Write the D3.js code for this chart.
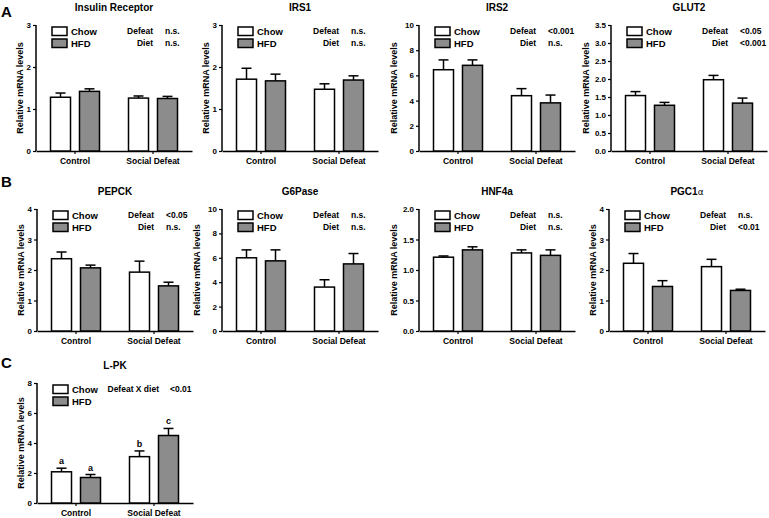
<!DOCTYPE html>
<html>
<head>
<meta charset="utf-8">
<script src="https://cdn.jsdelivr.net/npm/d3@7"></script>
<style>
  html, body { margin: 0; padding: 0; background: #fff; }
  svg { display: block; font-family: "Liberation Sans", Arial, sans-serif; font-weight: bold; }
</style>
</head>
<body>
<svg id="chart" width="769" height="518"></svg>
<script>
// ---- data ----
const categories = ["Control", "Social Defeat"];
const series = ["Chow", "HFD"];
const genes = ["Insulin Receptor", "IRS1", "IRS2", "GLUT2", "PEPCK", "G6Pase", "HNF4a", "PGC1α", "L-PK"];
const panelLetters = ["A", "B", "C"];
const chowMean = [[1.28, 1.26], [1.71, 1.47], [6.45, 4.39], [1.54, 1.98], [2.37, 1.93], [6.0, 3.6], [1.21, 1.28], [2.22, 2.11], [2.08, 3.09]];
const chowSEM  = [[0.10, 0.05], [0.26, 0.13], [0.78, 0.56], [0.11, 0.12], [0.22, 0.36], [0.65, 0.60], [0.02, 0.05], [0.32, 0.24], [0.24, 0.38]];
const hfdMean  = [[1.42, 1.25], [1.67, 1.69], [6.80, 3.82], [1.27, 1.33], [2.07, 1.48], [5.75, 5.5], [1.33, 1.24], [1.46, 1.33], [1.70, 4.50]];
const hfdSEM   = [[0.06, 0.05], [0.16, 0.10], [0.43, 0.62], [0.08, 0.14], [0.09, 0.12], [0.90, 0.85], [0.05, 0.09], [0.19, 0.04], [0.20, 0.47]];
const yTicks = [
  [0, 1, 2, 3], [0, 1, 2, 3], [0, 2, 4, 6, 8, 10], [0, 0.5, 1, 1.5, 2, 2.5, 3, 3.5],
  [0, 1, 2, 3, 4], [0, 2, 4, 6, 8, 10], [0, 0.5, 1, 1.5, 2], [0, 1, 2, 3, 4], [0, 2, 4, 6, 8]
];
const tickDecimals = [0, 0, 0, 1, 0, 0, 1, 0, 0];
const statLabels = [["Defeat", "Diet"], ["Defeat", "Diet"], ["Defeat", "Diet"], ["Defeat", "Diet"],
                    ["Defeat", "Diet"], ["Defeat", "Diet"], ["Defeat", "Diet"], ["Defeat", "Diet"], ["Defeat X diet"]];
const statValues = [["n.s.", "n.s."], ["n.s.", "n.s."], ["<0.001", "n.s."], ["<0.05", "<0.001"],
                    ["<0.05", "n.s."], ["n.s.", "n.s."], ["n.s.", "n.s."], ["n.s.", "<0.01"], ["<0.01"]];
const groupLetters = [null, null, null, null, null, null, null, null, [["a", "b"], ["a", "c"]]];
const yLabel = "Relative mRNA levels";

// ---- layout ----
const layout = [
  {x0: 36,  top: 25,  bottom: 151}, {x0: 222, top: 25,  bottom: 151}, {x0: 419, top: 25,  bottom: 151}, {x0: 611, top: 25,  bottom: 151},
  {x0: 37,  top: 209, bottom: 331}, {x0: 222, top: 209, bottom: 331}, {x0: 419, top: 209, bottom: 331}, {x0: 609, top: 209, bottom: 331},
  {x0: 37,  top: 383, bottom: 503}
];
const letterPos = [{x: 1, y: 17}, {x: 1, y: 187}, {x: 1, y: 368}];
const plotW = 156;
const fills = {Chow: "#ffffff", HFD: "#8c8c8c"};

const svg = d3.select("#chart");

svg.selectAll("text.letter").data(panelLetters).join("text")
  .attr("class", "letter")
  .attr("x", (d, i) => letterPos[i].x).attr("y", (d, i) => letterPos[i].y)
  .attr("font-size", 15).text(d => d);

genes.forEach((gene, p) => {
  const L = layout[p];
  const g = svg.append("g");
  const ticks = yTicks[p];
  const x = d3.scaleBand().domain(categories).range([L.x0, L.x0 + plotW]);
  const xs = d3.scaleBand().domain(series).range([-24.5, 24.5]).paddingInner(0.31);
  const y = d3.scaleLinear().domain([0, d3.max(ticks)]).range([L.bottom, L.top]);

  // y axis
  const yAxis = d3.axisLeft(y).tickValues(ticks).tickSize(3).tickPadding(2)
    .tickFormat(d3.format("." + tickDecimals[p] + "f"));
  const ya = g.append("g").attr("transform", `translate(${L.x0},0)`).call(yAxis);
  ya.select(".domain").attr("stroke-width", 1.5).attr("d", `M0,${L.top}V${L.bottom}`);
  ya.selectAll(".tick line").attr("stroke-width", 1.2);
  ya.selectAll(".tick text").attr("font-size", 8).attr("font-weight", "bold")
    .attr("font-family", "'Liberation Sans', Arial, sans-serif").attr("fill", "#000");

  // x axis
  const xAxis = d3.axisBottom(x).tickSize(3).tickSizeOuter(0).tickPadding(4);
  const xa = g.append("g").attr("transform", `translate(0,${L.bottom})`).call(xAxis);
  xa.select(".domain").attr("stroke-width", 1.5);
  xa.selectAll(".tick line").attr("stroke-width", 1.2);
  xa.selectAll(".tick text").attr("font-size", 8.5).attr("font-weight", "bold")
    .attr("font-family", "'Liberation Sans', Arial, sans-serif").attr("fill", "#000");

  // bars
  const rows = [];
  categories.forEach((c, ci) => {
    rows.push({cat: c, ser: "Chow", mean: chowMean[p][ci], sem: chowSEM[p][ci], si: 0, ci});
    rows.push({cat: c, ser: "HFD", mean: hfdMean[p][ci], sem: hfdSEM[p][ci], si: 1, ci});
  });
  const cx = d => x(d.cat) + x.bandwidth() / 2 + xs(d.ser);
  const bw = xs.bandwidth();

  // error bars (upper only)
  g.selectAll("line.err").data(rows).join("line")
    .attr("x1", d => cx(d) + bw / 2).attr("x2", d => cx(d) + bw / 2)
    .attr("y1", d => y(d.mean)).attr("y2", d => y(d.mean + d.sem))
    .attr("stroke", "#000").attr("stroke-width", 1.5);
  g.selectAll("line.cap").data(rows).join("line")
    .attr("x1", d => cx(d) + bw / 2 - 5).attr("x2", d => cx(d) + bw / 2 + 5)
    .attr("y1", d => y(d.mean + d.sem)).attr("y2", d => y(d.mean + d.sem))
    .attr("stroke", "#000").attr("stroke-width", 1.5);

  g.selectAll("rect.bar").data(rows).join("rect")
    .attr("x", d => cx(d)).attr("width", bw)
    .attr("y", d => y(d.mean)).attr("height", d => y(0) - y(d.mean))
    .attr("fill", d => fills[d.ser]).attr("stroke", "#000").attr("stroke-width", 1.5);

  if (groupLetters[p]) {
    g.selectAll("text.glet").data(rows).join("text")
      .attr("x", d => cx(d) + bw / 2).attr("y", d => y(d.mean + d.sem) - 4)
      .attr("text-anchor", "middle").attr("font-size", 9)
      .text(d => groupLetters[p][d.si][d.ci]);
  }

  // title
  const t = g.append("text").attr("x", L.x0 + plotW / 2).attr("y", L.top - 14)
    .attr("text-anchor", "middle").attr("font-size", 10);
  if (gene.endsWith("α")) {
    t.append("tspan").text(gene.slice(0, -1));
    t.append("tspan").attr("font-weight", "normal").attr("font-family", "'DejaVu Sans', sans-serif").attr("font-size", 9).text("α");
  } else {
    t.text(gene);
  }

  // y label
  const wide = ticks.some(v => d3.format("." + tickDecimals[p] + "f")(v).length > 1);
  const lx = L.x0 + (wide ? -24 : -15);
  g.append("text").attr("transform", `translate(${lx},${(L.top + L.bottom) / 2}) rotate(-90)`)
    .attr("text-anchor", "middle").attr("dominant-baseline", "middle").attr("font-size", 9)
    .text(yLabel);

  // legend
  series.forEach((s, si) => {
    g.append("rect").attr("x", L.x0 + 16).attr("y", L.top + 2 + si * 12).attr("width", 15).attr("height", 8.5)
      .attr("fill", fills[s]).attr("stroke", "#000").attr("stroke-width", 1.5);
    g.append("text").attr("x", L.x0 + 35).attr("y", L.top + 10 + si * 12).attr("font-size", 9.5).text(s);
  });

  // stats
  const single = statLabels[p].length === 1;
  statLabels[p].forEach((lab, li) => {
    g.append("text").attr("x", L.x0 + (single ? 122 : 117)).attr("y", L.top + 9 + li * 12)
      .attr("text-anchor", "end").attr("font-size", 8.5).text(lab);
    g.append("text").attr("x", L.x0 + (single ? 133 : 129)).attr("y", L.top + 9 + li * 12)
      .attr("font-size", 8.5).text(statValues[p][li]);
  });
});
</script>
</body>
</html>
